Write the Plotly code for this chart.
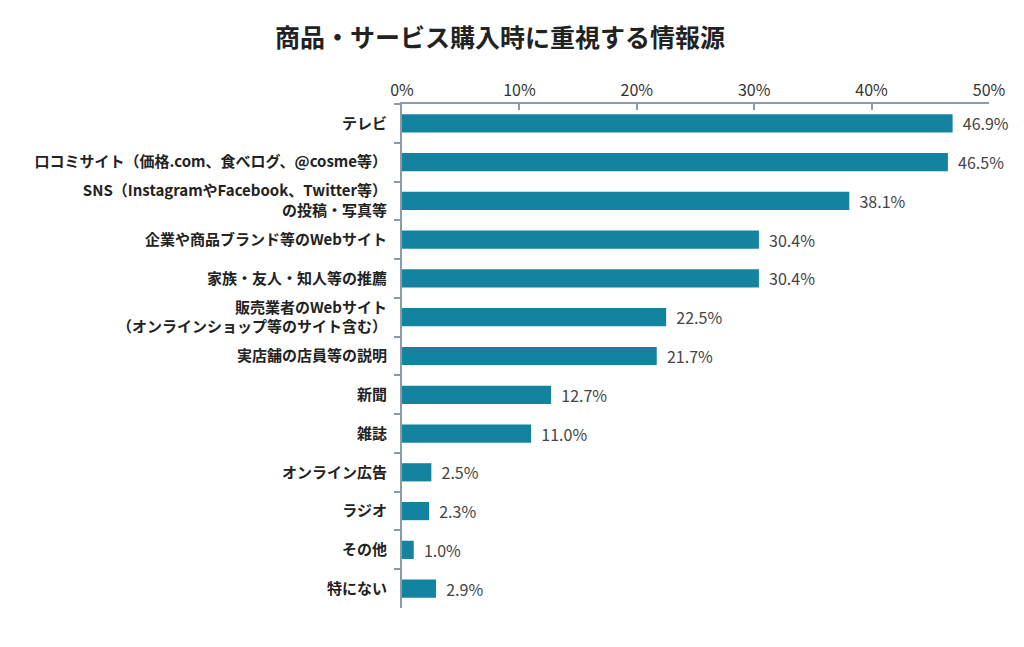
import plotly.graph_objects as go

categories = [
    "テレビ",
    "口コミサイト（価格.com、食べログ、@cosme等）",
    "SNS（InstagramやFacebook、Twitter等）<br>の投稿・写真等",
    "企業や商品ブランド等のWebサイト",
    "家族・友人・知人等の推薦",
    "販売業者のWebサイト<br>（オンラインショップ等のサイト含む）",
    "実店舗の店員等の説明",
    "新聞",
    "雑誌",
    "オンライン広告",
    "ラジオ",
    "その他",
    "特にない",
]
values = [46.9, 46.5, 38.1, 30.4, 30.4, 22.5, 21.7, 12.7, 11.0, 2.5, 2.3, 1.0, 2.9]
x_ticks = [0, 10, 20, 30, 40, 50]
x_tick_labels = ["0%", "10%", "20%", "30%", "40%", "50%"]

font = "Noto Sans CJK JP"
axis_color = "#8c9ba6"

L, R, T, B = 394, 43, 96, 47
W, H = 1024, 647
pw, ph = W - L - R, H - T - B

fig = go.Figure(
    go.Bar(
        x=values,
        y=categories,
        orientation="h",
        width=0.47,
        marker=dict(color="#14839f", line=dict(width=0)),
        text=[f"  {v:.1f}%" for v in values],
        textposition="outside",
        constraintext="none",
        textfont=dict(family=font, size=16, color="#444444"),
        cliponaxis=False,
    )
)

fig.update_layout(
    width=W,
    height=H,
    paper_bgcolor="white",
    plot_bgcolor="white",
    margin=dict(l=L, r=R, t=T, b=B, autoexpand=False),
    showlegend=False,
    font=dict(family=font),
    annotations=[
        dict(
            text="<b>商品・サービス購入時に重視する情報源</b>",
            x=(492 - L) / pw, xref="paper",
            y=1 + (T - 28) / ph, yref="paper",
            xanchor="center", yanchor="middle",
            showarrow=False,
            font=dict(family=font, size=25, color="#222222"),
        )
    ],
)

fig.update_xaxes(
    side="top",
    range=[0, 50],
    tickvals=x_ticks,
    ticktext=x_tick_labels,
    showgrid=False,
    zeroline=False,
    showline=True,
    linecolor=axis_color,
    linewidth=2,
    ticks="inside",
    ticklen=6,
    tickwidth=2,
    tickcolor=axis_color,
    tickfont=dict(family=font, size=16, color="#333333"),
    automargin=False,
)
fig.update_yaxes(
    type="category",
    categoryorder="array",
    categoryarray=categories,
    autorange=False,
    range=[len(categories) - 0.5, -0.5],
    showgrid=False,
    zeroline=False,
    showline=True,
    linecolor=axis_color,
    linewidth=2,
    ticks="outside",
    tickson="boundaries",
    ticklen=6,
    tickwidth=2,
    tickcolor=axis_color,
    ticklabelstandoff=10,
    tickfont=dict(family=font, size=15, color="#222222", weight="bold"),
    automargin=False,
)

fig.write_html("out.html")
